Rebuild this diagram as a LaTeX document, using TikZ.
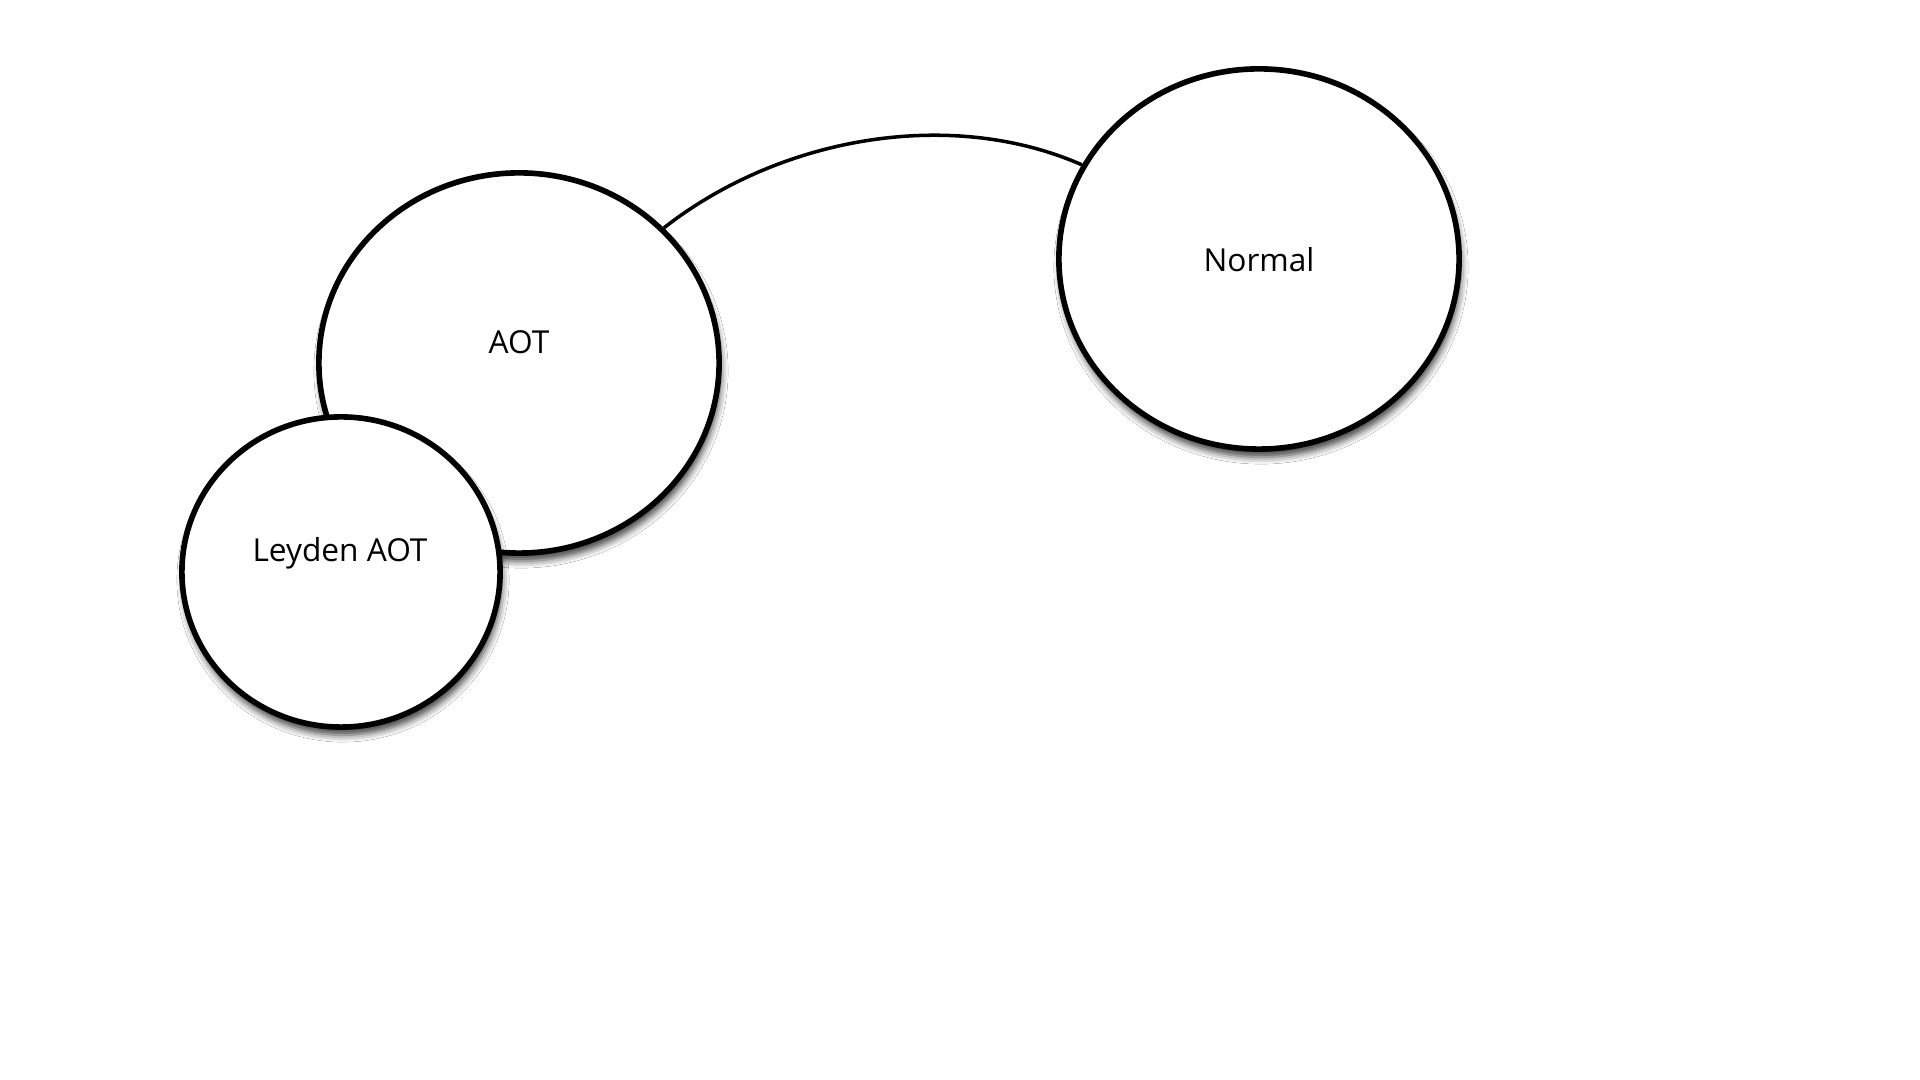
\documentclass[tikz,border=0pt]{standalone}
\usepackage{fontspec}
\setmainfont{Open Sans}
\usetikzlibrary{shapes.geometric,shadows.blur}
\begin{document}
\begin{tikzpicture}[x=0.01cm,y=-0.01cm,
  bubble/.style={ellipse, draw=black, line width=1.6pt, fill=white, inner sep=0pt,
    blur shadow={shadow xshift=0.02cm, shadow yshift=-0.08cm, shadow blur radius=0.07cm, shadow opacity=75}},
  lbl/.style={font=\fontsize{9}{11}\selectfont, text=black},
  link/.style={draw=black, line width=1pt}]
\useasboundingbox[fill=white] (0,0) rectangle (1920,1080);
\node[bubble, minimum width=4cm, minimum height=3.8cm] (aot) at (519,363) {};
\node[lbl] (aottext) at (519,342) {AOT};
\node[bubble, minimum width=3.18cm, minimum height=3.1cm] (leyden) at (341,572) {};
\node[lbl] (leydentext) at (340,553) {Leyden AOT};
\node[bubble, minimum width=4cm, minimum height=3.8cm] (normal) at (1259,259) {};
\node[lbl] (normaltext) at (1259,260) {Normal};
\draw[link] (aot.43) .. controls (780,137) and (950,107) .. (normal.152);
\end{tikzpicture}
\end{document}
